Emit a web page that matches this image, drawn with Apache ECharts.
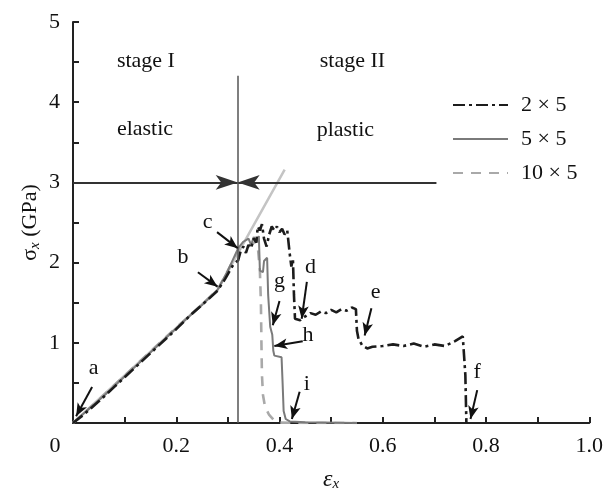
<!DOCTYPE html>
<html><head><meta charset="utf-8">
<script src="https://cdn.jsdelivr.net/npm/echarts@6/dist/echarts.min.js"></script>
<style>html,body{margin:0;padding:0;background:#fff}#c{width:606px;height:497px}</style>
</head><body><div id="c"></div>
<script>
// ---- data (strain, stress GPa) ----
const s2x5 = [[0,0],[0.02,0.1],[0.05,0.27],[0.08,0.45],[0.1,0.57],[0.13,0.75],[0.16,0.93],[0.2,1.17],[0.23,1.36],[0.26,1.53],[0.28,1.65],[0.295,1.8],[0.31,1.97],[0.32,2.03],[0.325,2.15],[0.33,2.2],[0.335,2.12],[0.34,2.22],[0.345,2.18],[0.35,2.3],[0.355,2.25],[0.358,2.45],[0.362,2.4],[0.366,2.48],[0.37,2.3],[0.375,2.2],[0.38,2.35],[0.385,2.45],[0.39,2.4],[0.395,2.45],[0.4,2.38],[0.405,2.42],[0.41,2.35],[0.415,2.4],[0.418,2.38],[0.42,2.1],[0.423,1.95],[0.426,2.05],[0.428,1.6],[0.43,1.3],[0.44,1.28],[0.45,1.33],[0.46,1.37],[0.47,1.35],[0.48,1.39],[0.49,1.37],[0.5,1.41],[0.51,1.38],[0.52,1.42],[0.53,1.4],[0.54,1.44],[0.548,1.42],[0.55,1.15],[0.553,1.05],[0.56,0.97],[0.57,0.93],[0.58,0.95],[0.6,0.96],[0.62,0.98],[0.64,0.96],[0.66,0.99],[0.68,0.95],[0.7,0.98],[0.72,0.96],[0.74,1.02],[0.755,1.08],[0.758,1.1],[0.76,0.6],[0.762,0]];
const s5x5 = [[0,0],[0.03,0.17],[0.06,0.34],[0.1,0.58],[0.14,0.82],[0.18,1.06],[0.22,1.3],[0.25,1.47],[0.28,1.66],[0.3,1.9],[0.32,2.18],[0.33,2.26],[0.34,2.3],[0.345,2.22],[0.35,2.32],[0.355,2.25],[0.36,2.33],[0.362,1.9],[0.368,1.88],[0.37,2.02],[0.376,2.06],[0.378,1.6],[0.382,1.2],[0.386,1.1],[0.388,0.9],[0.39,0.84],[0.404,0.82],[0.406,0.5],[0.408,0.15],[0.412,0.05],[0.42,0.02],[0.45,0.01],[0.55,0]];
const s10x5 = [[0,0],[0.04,0.23],[0.08,0.47],[0.12,0.71],[0.16,0.95],[0.2,1.19],[0.24,1.42],[0.28,1.66],[0.3,1.9],[0.32,2.15],[0.33,2.22],[0.34,2.2],[0.35,2.25],[0.358,2.2],[0.362,1.9],[0.364,1.5],[0.365,1.0],[0.366,0.6],[0.368,0.35],[0.372,0.2],[0.38,0.1],[0.39,0.03],[0.4,0.005],[0.45,0],[0.55,0]];
const fitLine = [[0,0],[0.28,1.66],[0.41,3.16]];
const seriesNames = ['2 \u00d7 5','5 \u00d7 5','10 \u00d7 5'];
const xTicks = {min:0, max:1.0, interval:0.2};
const yTicks = {min:0, max:5, interval:1};
const stageX = 0.319, stageTop = 4.33, stageY = 3, stageRight = 0.704;
// annotation letters: [label, textX, textY, tailX, tailY, tipX, tipY]
const notes = [
 ['a',0.04,0.68,0.037,0.45,0.006,0.085],
 ['b',0.213,2.07,0.242,1.88,0.28,1.7],
 ['c',0.261,2.5,0.279,2.38,0.319,2.18],
 ['d',0.46,1.94,0.453,1.76,0.443,1.3],
 ['e',0.586,1.63,0.578,1.43,0.565,1.09],
 ['f',0.783,0.63,0.783,0.41,0.77,0.05],
 ['g',0.40,1.77,0.40,1.52,0.387,1.22],
 ['h',0.455,1.1,0.445,1.02,0.39,0.96],
 ['i',0.453,0.48,0.439,0.39,0.424,0.05]
];
const stageTexts = [['stage I',0.085,4.51],['elastic',0.085,3.66],['stage II',0.478,4.51],['plastic',0.472,3.65]];

const FONT = '"Liberation Serif","DejaVu Serif",serif';
const chart = echarts.init(document.getElementById('c'));
chart.setOption({
  animation:false,
  grid:{left:73,right:16,top:22,bottom:65},
  legend:{
    orient:'vertical', left:447, top:89, itemWidth:55, itemHeight:14, itemGap:12,
    itemStyle:{opacity:0},
    textStyle:{fontFamily:FONT,fontSize:22,color:'#111',padding:[0,0,0,8]},
    data:seriesNames
  },
  xAxis:{type:'value',min:xTicks.min,max:xTicks.max,interval:xTicks.interval,
    axisLine:{lineStyle:{color:'#222',width:2}},
    axisTick:{inside:true,length:6,lineStyle:{color:'#222',width:2}},
    minorTick:{show:true,splitNumber:2,length:6,lineStyle:{color:'#222',width:2}},
    splitLine:{show:false},
    axisLabel:{margin:12,fontFamily:FONT,fontSize:22,color:'#111',
      formatter:v=> v===0?'{o|0}':(v===1?'1.0':String(+v.toFixed(1))),
      rich:{o:{fontFamily:FONT,fontSize:22,color:'#111',padding:[0,36,0,0]}}},
    name:'{e|\u03b5}{s|x}', nameLocation:'middle', nameGap:44,
    nameTextStyle:{rich:{e:{fontFamily:FONT,fontSize:24,fontStyle:'italic',color:'#111'},s:{fontFamily:FONT,fontSize:15,fontStyle:'italic',color:'#111',padding:[10,0,0,0]}}}
  },
  yAxis:{type:'value',min:yTicks.min,max:yTicks.max,interval:yTicks.interval,
    axisLine:{lineStyle:{color:'#222',width:2}},
    axisTick:{inside:true,length:6,lineStyle:{color:'#222',width:2}},
    minorTick:{show:true,splitNumber:2,length:6,lineStyle:{color:'#222',width:2}},
    splitLine:{show:false},
    axisLabel:{margin:13,fontFamily:FONT,fontSize:22,color:'#111',showMinLabel:false},
    name:'{g|\u03c3}{s|x}{g| (GPa)}', nameLocation:'middle', nameGap:30, nameRotate:90, nameMoveOverlap:false,
    nameTextStyle:{rich:{g:{fontFamily:FONT,fontSize:22,color:'#111'},s:{fontFamily:FONT,fontSize:15,fontStyle:'italic',color:'#111',padding:[10,0,0,0]}}}
  },
  series:[
    {name:'fit',type:'line',data:fitLine,symbol:'none',lineStyle:{color:'#c4c4c4',width:2.5},z:1,
     markLine:{silent:true,symbol:['none','arrow'],symbolSize:[11,22],label:{show:false},
       lineStyle:{color:'#333',width:2,type:'solid'},
       data:[
         [{coord:[0,stageY]},{coord:[stageX,stageY]}],
         [{coord:[stageRight,stageY]},{coord:[stageX,stageY]}],
         [{coord:[stageX,0],symbol:'none'},{coord:[stageX,stageTop],symbol:'none',lineStyle:{color:'#555',width:1.5}}]
       ]}},
    {name:seriesNames[0],type:'line',data:s2x5,symbol:'none',z:4,
     lineStyle:{color:'#1c1c1c',width:2.6,type:[12,4,3,4]},itemStyle:{color:'#1c1c1c'}},
    {name:seriesNames[1],type:'line',data:s5x5,symbol:'none',z:3,
     lineStyle:{color:'#7a7a7a',width:2,type:'solid'},itemStyle:{color:'#7a7a7a'}},
    {name:seriesNames[2],type:'line',data:s10x5,symbol:'none',z:2,
     lineStyle:{color:'#a9a9a9',width:2.6,type:[10,8]},itemStyle:{color:'#a9a9a9'}},
    {name:'notes',type:'scatter',symbolSize:0,z:6,itemStyle:{opacity:1},
     data:notes.map(n=>({name:n[0],value:[n[1],n[2]]})),
     label:{show:true,position:'inside',formatter:'{b}',fontFamily:FONT,fontSize:22,color:'#111'},
     markLine:{silent:true,symbol:['none','arrow'],symbolSize:[8,13],label:{show:false},
       lineStyle:{color:'#111',width:2,type:'solid'},
       data:notes.map(n=>[{coord:[n[3],n[4]]},{coord:[n[5],n[6]]}])}},
    {name:'stages',type:'scatter',symbolSize:0,z:6,itemStyle:{opacity:1},
     data:stageTexts.map(t=>({name:t[0],value:[t[1],t[2]]})),
     label:{show:true,position:'inside',align:'left',formatter:'{b}',fontFamily:FONT,fontSize:22,color:'#111'}}
  ]
});
</script></body></html>
